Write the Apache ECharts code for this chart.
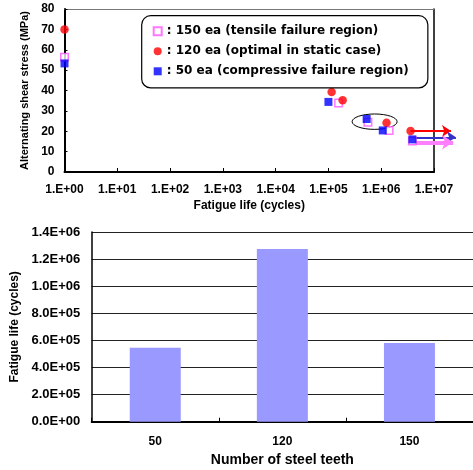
<!DOCTYPE html>
<html>
<head>
<meta charset="utf-8">
<script src="https://cdn.jsdelivr.net/npm/echarts@6/dist/echarts.min.js"></script>
<style>
  html, body { margin: 0; padding: 0; background: #fff; }
  #chart { width: 473px; height: 470px; }
</style>
</head>
<body>
<div id="chart"></div>
<script>
// S-N results: fatigue life (cycles) vs alternating shear stress (MPa)
const life150 = [1, 1.56e5, 5.6e5, 1.41e6, 3.9e6];
const stress150 = [56.3, 33.9, 24.4, 20.4, 15.2];
const life120 = [1, 1.15e5, 1.86e5, 1.26e6, 3.6e6];
const stress120 = [70, 39.3, 35.2, 24.2, 20.1];
const life50 = [1, 1.0e5, 5.3e5, 1.07e6, 3.9e6];
const stress50 = [53.3, 34.4, 26.0, 20.4, 16.0];

// run-out specimens: arrows from the last point to beyond 1E+07
const runoutEnd150 = 2.3e7;
const runoutEnd120 = 2.1e7;
const runoutEnd50 = 2.6e7;

// centre of the highlighted group (ellipse)
const groupCenter = [7.5e5, 24.7];

const seriesNames = [
  '150 ea (tensile failure region)',
  '120 ea (optimal in static case)',
  '50 ea (compressive failure region)'
];

// mean fatigue life per steel-teeth count
const teethCounts = ['50', '120', '150'];
const meanLife = [5.46e5, 1.274e6, 5.81e5];

const FONT = 'Liberation Sans, Arial, sans-serif';
const zip = (xs, ys) => xs.map((x, i) => [x, ys[i]]);
const pad2 = n => (n < 10 ? '0' : '') + n;

function logLabel(v) {
  const e = Math.round(Math.log10(v));
  return '1.E+' + pad2(e);
}
function expLabel(v) {
  const s = Number(v).toExponential(1).split('e');
  const e = parseInt(s[1], 10);
  return s[0] + 'E' + (e < 0 ? '-' : '+') + pad2(Math.abs(e));
}

const boldText = (size) => ({ fontFamily: FONT, fontWeight: 'bold', fontSize: size, color: '#000' });

// horizontal run-out arrow; dy nudges the stacked arrows apart
function arrow(name, x0, y0, x1, dy, color, width, size) {
  return {
    name: name,
    type: 'lines',
    coordinateSystem: 'cartesian2d',
    xAxisIndex: 0, yAxisIndex: 0,
    clip: false,
    silent: true,
    symbol: ['none', 'arrow'],
    symbolSize: size,
    lineStyle: { color: color, width: width, opacity: 1 },
    data: [{ coords: [[x0, y0 + dy], [x1, y0 + dy]] }],
    z: 1
  };
}

const chart = echarts.init(document.getElementById('chart'), null, { renderer: 'canvas' });

chart.setOption({
  animation: false,
  backgroundColor: '#fff',
  grid: [
    { left: 64.5, top: 9, right: 39, bottom: 298, outerBoundsMode: 'none' },
    { left: 91.7, top: 232, right: 0, bottom: 48.3, outerBoundsMode: 'none' }
  ],
  legend: {
    data: seriesNames,
    orient: 'vertical',
    left: 141.7,
    top: 15.7,
    formatter: n => ': ' + n,
    itemWidth: 8,
    itemHeight: 8,
    itemGap: 6,
    itemTextGap: 11,
    padding: [8.6, 19, 9.6, 11],
    borderColor: '#000',
    borderWidth: 1.2,
    borderRadius: 9,
    backgroundColor: '#fff',
    selectedMode: false,
    textStyle: { fontFamily: 'DejaVu Sans', fontWeight: 'bold', fontSize: 12, color: '#000', lineHeight: 14 }
  },
  xAxis: [
    {
      gridIndex: 0, type: 'log', logBase: 10, min: 1, max: 1e7, interval: 1,
      name: 'Fatigue life (cycles)', nameLocation: 'middle', nameGap: 28,
      nameTextStyle: boldText(12),
      axisLine: { show: true, onZero: false, lineStyle: { color: '#000', width: 2 } },
      axisTick: { show: true, inside: true, length: 4, lineStyle: { color: '#000', width: 1 } },
      minorTick: { show: false },
      axisLabel: Object.assign({ formatter: logLabel, margin: 12 }, boldText(12)),
      splitLine: { show: false }
    },
    {
      gridIndex: 0, type: 'value', position: 'top', min: 0, max: 1,
      axisLine: { show: true, onZero: false, lineStyle: { color: '#777', width: 1 } },
      axisTick: { show: false }, axisLabel: { show: false }, splitLine: { show: false }
    },
    {
      gridIndex: 1, type: 'category', data: teethCounts, boundaryGap: true,
      name: 'Number of steel teeth', nameLocation: 'middle', nameGap: 31,
      nameTextStyle: boldText(14),
      axisLine: { show: true, onZero: false, lineStyle: { color: '#000', width: 2 } },
      axisTick: { show: true, inside: true, length: 4, alignWithLabel: false, lineStyle: { color: '#000' } },
      axisLabel: Object.assign({ margin: 14 }, boldText(12)),
      splitLine: { show: false }
    }
  ],
  yAxis: [
    {
      gridIndex: 0, type: 'value', min: 0, max: 80, interval: 10,
      name: 'Alternating shear stress (MPa)', nameLocation: 'middle', nameGap: 32,
      nameTextStyle: boldText(11),
      axisLine: { show: true, onZero: false, lineStyle: { color: '#000', width: 2 } },
      axisTick: { show: true, inside: true, length: 3, lineStyle: { color: '#000' } },
      axisLabel: Object.assign({ margin: 10 }, boldText(12)),
      splitLine: { show: false }
    },
    {
      gridIndex: 0, type: 'value', position: 'right', min: 0, max: 1,
      axisLine: { show: true, onZero: false, lineStyle: { color: '#000', width: 1.5 } },
      axisTick: { show: false }, axisLabel: { show: false }, splitLine: { show: false }
    },
    {
      gridIndex: 1, type: 'value', min: 0, max: 1.4e6, interval: 2e5,
      name: 'Fatigue life (cycles)', nameLocation: 'middle', nameGap: 70,
      nameTextStyle: boldText(12),
      axisLine: { show: true, onZero: false, lineStyle: { color: '#000', width: 1.5 } },
      axisTick: { show: false },
      axisLabel: Object.assign({ formatter: expLabel, margin: 11.5 }, boldText(13)),
      splitLine: { show: true, lineStyle: { color: '#222', width: 1 } }
    }
  ],
  series: [
    // highlighted group
    {
      type: 'custom', xAxisIndex: 0, yAxisIndex: 0, silent: true, clip: false, z: 1,
      data: [groupCenter],
      renderItem: function (params, api) {
        const p = api.coord([api.value(0), api.value(1)]);
        return {
          type: 'ellipse',
          shape: { cx: p[0], cy: p[1], rx: 22.5, ry: 7.7 },
          style: { fill: 'none', stroke: '#000', lineWidth: 1 }
        };
      }
    },
    arrow('runout 120', life120[4], stress120[4], runoutEnd120, 0, '#ff0000', 2, 9),
    arrow('runout 50', life50[4], stress50[4], runoutEnd50, 1.0, '#3333cc', 2, 9),
    arrow('runout 150', life150[4], stress150[4], runoutEnd150, -0.6, '#ff80ff', 4, 11),
    {
      name: seriesNames[0], type: 'scatter', xAxisIndex: 0, yAxisIndex: 0, clip: false, z: 3,
      symbol: 'rect', symbolSize: 7.5,
      itemStyle: { color: '#fff', borderColor: '#ff55ff', borderWidth: 1.5 },
      data: zip(life150, stress150)
    },
    {
      name: seriesNames[1], type: 'scatter', xAxisIndex: 0, yAxisIndex: 0, clip: false, z: 3,
      symbol: 'circle', symbolSize: 8.5,
      itemStyle: { color: '#ff0000' },
      data: zip(life120, stress120)
    },
    {
      name: seriesNames[2], type: 'scatter', xAxisIndex: 0, yAxisIndex: 0, clip: false, z: 3,
      symbol: 'rect', symbolSize: 8,
      itemStyle: { color: '#0000ff' },
      data: zip(life50, stress50)
    },
    {
      name: 'Fatigue life', type: 'bar', xAxisIndex: 2, yAxisIndex: 2,
      barWidth: 51,
      itemStyle: { color: '#9999ff' },
      data: meanLife
    }
  ]
});
</script>
</body>
</html>
